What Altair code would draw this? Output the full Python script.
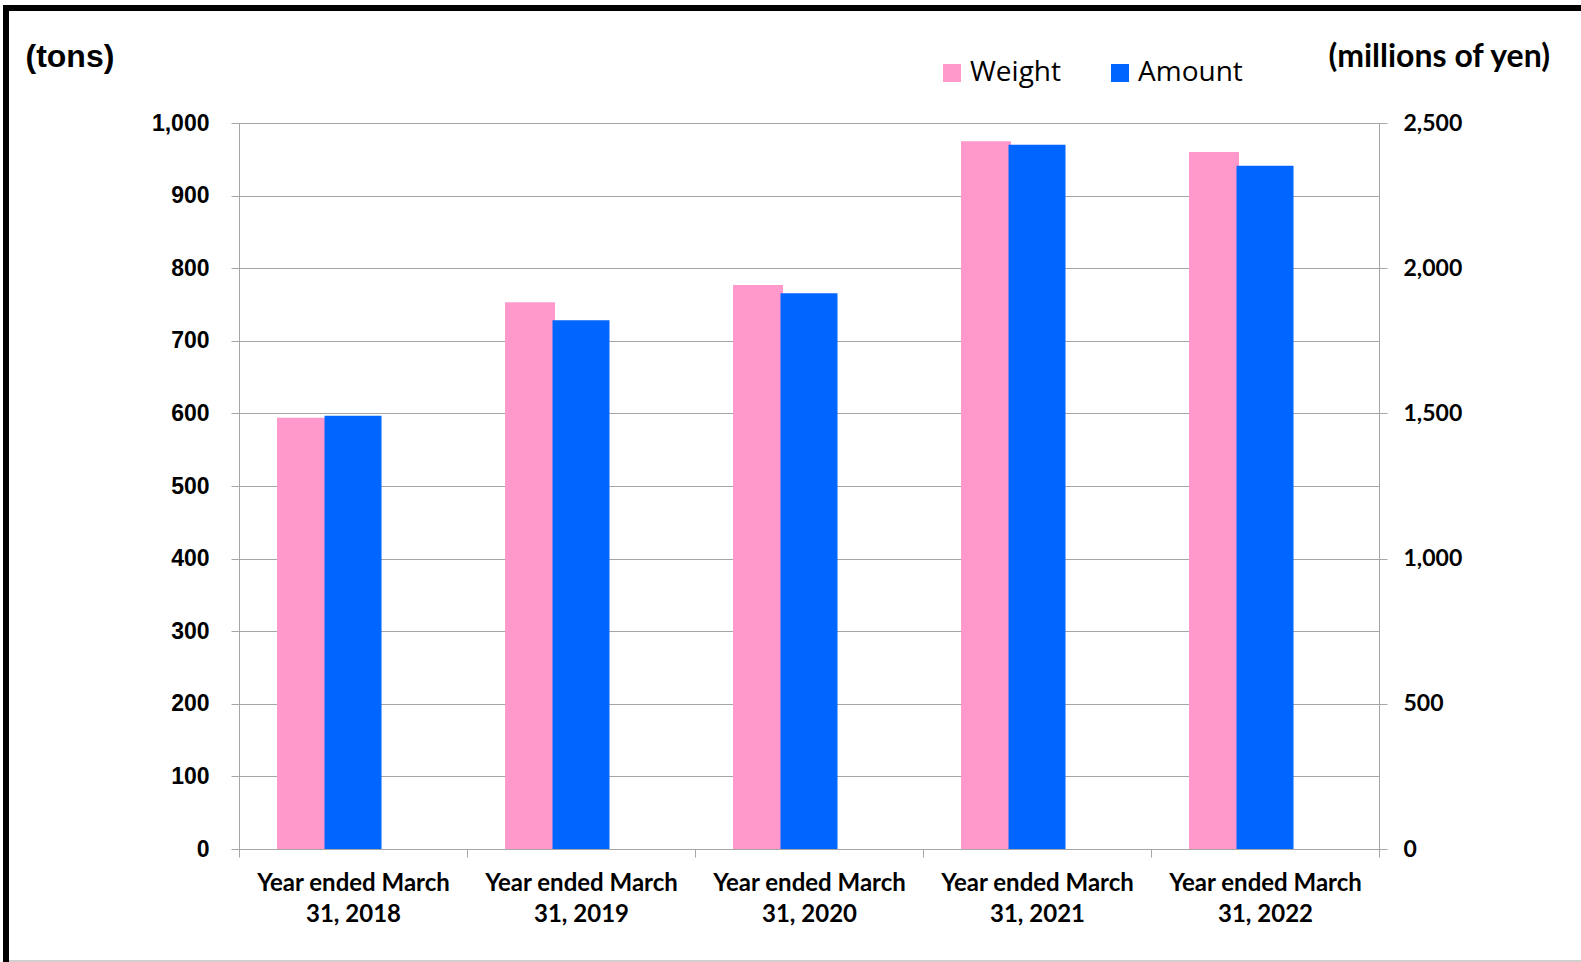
import altair as alt
import pandas as pd

categories = [
    "Year ended March 31, 2018",
    "Year ended March 31, 2019",
    "Year ended March 31, 2020",
    "Year ended March 31, 2021",
    "Year ended March 31, 2022",
]
weight_tons = [594, 753, 777, 975, 960]
amount_myen = [1492, 1821, 1914, 2425, 2353]
series_names = ["Weight", "Amount"]
series_colors = ["#FF99CC", "#0066FF"]

df = pd.DataFrame({"period": categories, "weight": weight_tons, "amount": amount_myen})

GRID = "#A6A6A6"

x_enc = alt.X(
    "period:N",
    sort=categories,
    scale=alt.Scale(paddingInner=0, paddingOuter=0),
    axis=alt.Axis(
        title=None,
        labelAngle=0,
        labelExpr="[slice(datum.label, 0, 16), slice(datum.label, 17)]",
        labelFont="Lato",
        labelFontWeight="bold",
        labelFontSize=24,
        labelLineHeight=31,
        labelLimit=400,
        labelColor="#000000",
        labelPadding=14,
        tickBand="extent",
        tickSize=8,
        tickColor=GRID,
        domainColor=GRID,
        grid=False,
    ),
)

color_enc = alt.Color(
    "series:N",
    scale=alt.Scale(domain=series_names, range=series_colors),
    legend=alt.Legend(
        title=None,
        orient="none",
        direction="horizontal",
        legendX=699,
        legendY=-64,
        padding=0,
        symbolType="square",
        symbolSize=324,
        symbolStrokeWidth=0,
        symbolOpacity=1,
        labelFont="Open Sans",
        labelFontSize=28,
        labelColor="#000000",
        labelOffset=4,
        columnPadding=45,
    ),
)

weight_bars = (
    alt.Chart(df)
    .transform_calculate(series="'Weight'")
    .mark_bar(size=50, xOffset=-51, opacity=1)
    .encode(
        x=x_enc,
        y=alt.Y(
            "weight:Q",
            scale=alt.Scale(domain=[0, 1000], nice=False),
            axis=alt.Axis(
                title="(tons)",
                orient="left",
                tickCount=10,
                format=",d",
                labelFont="Liberation Sans",
                labelFontWeight="bold",
                labelFontSize=23,
                labelColor="#000000",
                labelPadding=22,
                tickSize=8,
                tickColor=GRID,
                domainColor=GRID,
                grid=True,
                gridColor=GRID,
                gridWidth=1,
                titleFont="Liberation Sans",
                titleFontWeight="bold",
                titleFontSize=32,
                titleColor="#000000",
                titleAngle=0,
                titleAlign="left",
                titleBaseline="middle",
                titleX=-214,
                titleY=-67,
            ),
        ),
        color=color_enc,
    )
)

amount_bars = (
    alt.Chart(df)
    .transform_calculate(series="'Amount'")
    .mark_bar(size=57, opacity=1)
    .encode(
        x=x_enc,
        y=alt.Y(
            "amount:Q",
            scale=alt.Scale(domain=[0, 2500], nice=False),
            axis=alt.Axis(
                title="(millions of yen)",
                orient="right",
                tickCount=5,
                format=",d",
                labelFont="Lato",
                labelFontWeight="bold",
                labelFontSize=23,
                labelColor="#000000",
                labelPadding=16,
                tickSize=8,
                tickColor=GRID,
                domainColor=GRID,
                grid=False,
                titleFont="Lato",
                titleFontWeight="bold",
                titleFontSize=32,
                titleColor="#000000",
                titleAngle=0,
                titleAlign="left",
                titleBaseline="middle",
                titleX=-51,
                titleY=-67,
            ),
        ),
        color=color_enc,
    )
)

one = pd.DataFrame({"k": [0]})
frame_top = alt.Chart(one).mark_rule(color="#000000", strokeWidth=6).encode(
    x=alt.value(-236), x2=alt.value(1342), y=alt.value(-115)
)
frame_left = alt.Chart(one).mark_rule(color="#000000", strokeWidth=6).encode(
    x=alt.value(-233), y=alt.value(-118), y2=alt.value(839)
)
frame_bottom = alt.Chart(one).mark_rule(color="#D0D0D0", strokeWidth=2).encode(
    x=alt.value(-230), x2=alt.value(1342), y=alt.value(838)
)

chart = (
    alt.layer(weight_bars, amount_bars, frame_top, frame_left, frame_bottom)
    .resolve_scale(y="independent")
    .properties(
        width=1140,
        height=726,
        autosize=alt.AutoSizeParams(type="none"),
        padding={"left": 239, "top": 123, "right": 202, "bottom": 113},
        background="#FFFFFF",
    )
    .configure_view(stroke=None)
)

chart.save("out.html", embed_options={"renderer": "svg", "actions": False})
